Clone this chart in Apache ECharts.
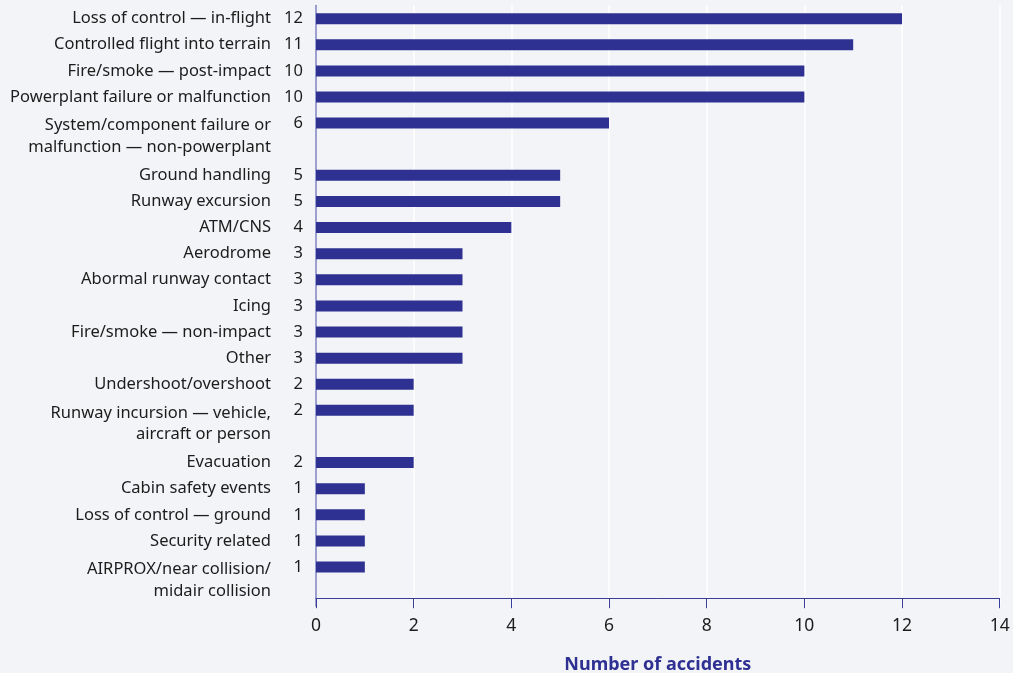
<!DOCTYPE html>
<html>
<head>
<meta charset="utf-8">
<title>Accident categories</title>
<script src="https://cdn.jsdelivr.net/npm/echarts@6/dist/echarts.min.js"></script>
<style>
  html, body { margin: 0; padding: 0; background: #f3f4f7; }
  #chart { width: 1013px; height: 673px; }
</style>
</head>
<body>
<div id="chart"></div>
<script>
// Occurrence categories, top to bottom ("\n" marks a wrapped label)
const categories = [
  'Loss of control \u2014 in-flight',
  'Controlled flight into terrain',
  'Fire/smoke \u2014 post-impact',
  'Powerplant failure or malfunction',
  'System/component failure or\nmalfunction \u2014 non-powerplant',
  'Ground handling',
  'Runway excursion',
  'ATM/CNS',
  'Aerodrome',
  'Abormal runway contact',
  'Icing',
  'Fire/smoke \u2014 non-impact',
  'Other',
  'Undershoot/overshoot',
  'Runway incursion \u2014 vehicle,\naircraft or person',
  'Evacuation',
  'Cabin safety events',
  'Loss of control \u2014 ground',
  'Security related',
  'AIRPROX/near collision/\nmidair collision'
];

// Number of accidents per category
const accidents = [12, 11, 10, 10, 6, 5, 5, 4, 3, 3, 3, 3, 3, 2, 2, 2, 1, 1, 1, 1];

// Value axis range and step
const xMin = 0;
const xMax = 14;
const xStep = 2;

const FONT = '"Noto Sans", "Open Sans", sans-serif';
const NAVY = '#2e3192';
const TEXT = '#1c1c1c';

// A wrapped label takes up two rows, so an empty row follows it
const rows = [];
const rowValues = [];
let gap = 0;
categories.forEach(function (name, i) {
  rows.push(name);
  rowValues.push(accidents[i]);
  if (name.indexOf('\n') >= 0) {
    gap += 1;
    rows.push(' '.repeat(gap));
    rowValues.push('-');
  }
});

// Wrapped labels hang down from their bar: the first line sits level with it
function rowLabel(value) {
  if (value.indexOf('\n') < 0) {
    return value.trim() === '' ? '' : '{t|' + value + '}';
  }
  const lines = value.split('\n');
  return '{s| }\n' + lines.map(function (l) { return '{t|' + l + '}'; }).join('\n');
}

const chart = echarts.init(document.getElementById('chart'), null, { renderer: 'canvas' });

chart.setOption({
  backgroundColor: '#f3f4f7',
  animation: false,
  textStyle: { fontFamily: FONT },
  grid: { left: 316, right: 13.3, top: 5.6, bottom: 66.8, outerBoundsMode: 'none' },
  xAxis: {
    type: 'value',
    min: xMin,
    max: xMax,
    interval: xStep,
    offset: -8,
    axisLine: { show: true, lineStyle: { color: '#3a3e99', width: 1 } },
    axisTick: { show: true, length: 10, lineStyle: { color: '#3a3e99', width: 1 } },
    axisLabel: { color: TEXT, fontSize: 17.5, margin: 19, fontFamily: FONT },
    splitLine: { show: true, lineStyle: { color: '#ffffff', width: 1.5 } },
    name: 'Number of accidents',
    nameLocation: 'middle',
    nameGap: 58,
    nameTextStyle: { color: NAVY, fontSize: 18, fontWeight: 'bold', fontFamily: FONT }
  },
  yAxis: {
    type: 'category',
    inverse: true,
    data: rows,
    axisLine: { show: true, lineStyle: { color: '#7e81c2', width: 1.5 } },
    axisTick: { show: false },
    splitLine: { show: false },
    axisLabel: {
      interval: 0,
      margin: 45,
      color: TEXT,
      fontSize: 16.5,
      fontFamily: FONT,
      formatter: rowLabel,
      rich: {
        t: { color: TEXT, fontSize: 16.5, fontFamily: FONT, lineHeight: 21.5 },
        s: { fontSize: 16.5, fontFamily: FONT, lineHeight: 26.5 }
      }
    }
  },
  series: [{
    type: 'bar',
    data: rowValues,
    barWidth: 11,
    silent: true,
    itemStyle: { color: NAVY },
    label: {
      show: true,
      position: 'left',
      distance: 13,
      color: TEXT,
      fontSize: 16.5,
      fontFamily: FONT
    }
  }]
});
</script>
</body>
</html>
